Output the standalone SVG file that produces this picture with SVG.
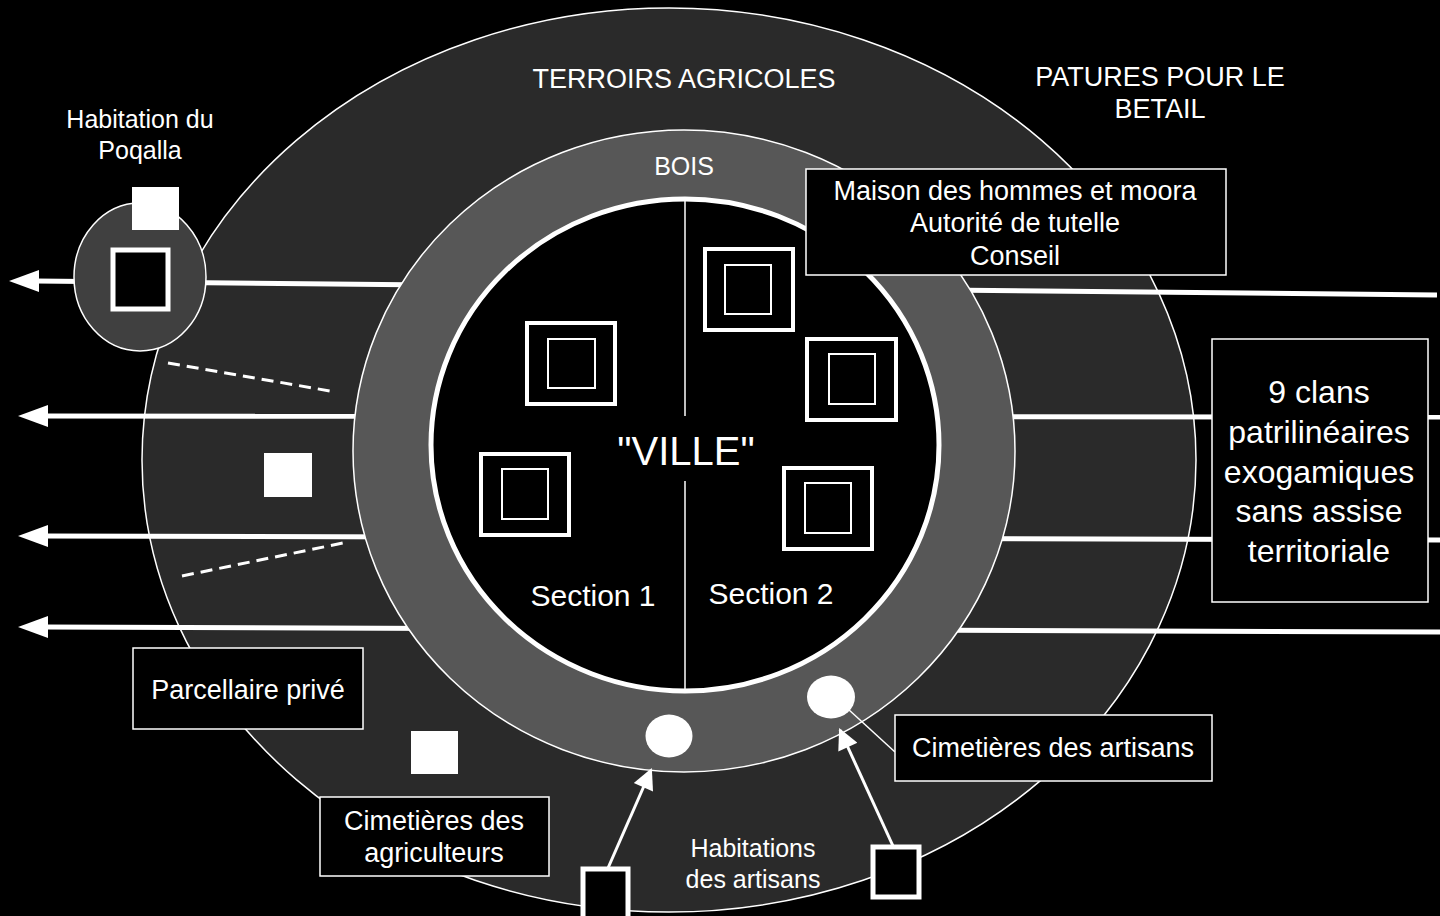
<svg xmlns="http://www.w3.org/2000/svg" width="1440" height="916" viewBox="0 0 1440 916">
<defs>
<style>
text{font-family:"Liberation Sans",Arial,sans-serif;fill:#fff;text-anchor:middle}
.t26{font-size:27px}
.t24{font-size:25px}
.box{fill:#000;stroke:#fff;stroke-width:1.5}
.hl{stroke:#fff;stroke-width:5;fill:none}
.dash{stroke:#fff;stroke-width:3;stroke-dasharray:12 7;fill:none}
.fsq{fill:#fff}
.osq{fill:none;stroke:#fff;stroke-width:4}
.isq{fill:none;stroke:#fff;stroke-width:2}
.bsq{fill:#000;stroke:#fff;stroke-width:5}
.big{font-size:32px}
</style>
<marker id="ah2" viewBox="0 0 10 10" refX="9" refY="5" markerWidth="8" markerHeight="7" markerUnits="strokeWidth" orient="auto">
<path d="M0,0 L10,5 L0,10 z" fill="#fff"/>
</marker>
</defs>
<rect width="1440" height="916" fill="#000"/>

<g id="terroirs">
<ellipse cx="669" cy="460" rx="527" ry="452" fill="#2a2a2a" stroke="#fff" stroke-width="1.5"/>
</g>

<g id="connectors">
<line class="hl" x1="36" y1="281" x2="1437" y2="295"/>
<path d="M39,270 L9,281 L39,292 z" fill="#fff"/>
<line class="hl" x1="44" y1="416" x2="1440" y2="417"/>
<path d="M48,405 L18,416 L48,427 z" fill="#fff"/>
<line class="hl" x1="44" y1="536" x2="1440" y2="540"/>
<path d="M48,525 L18,536 L48,547 z" fill="#fff"/>
<line class="hl" x1="44" y1="627" x2="1440" y2="632"/>
<path d="M48,616 L18,627 L48,638 z" fill="#fff"/>
<line class="dash" x1="168" y1="363" x2="336" y2="392"/>
<line class="dash" x1="182" y1="576" x2="348" y2="542"/>
</g>

<g id="poqalla">
<ellipse cx="140" cy="277" rx="66" ry="74" fill="#404040" stroke="#fff" stroke-width="1.5"/>
<rect class="fsq" x="132" y="187" width="47" height="43"/>
<rect class="bsq" x="113" y="250" width="55" height="59"/>
<text class="t24" x="140" y="128">Habitation du</text>
<text class="t24" x="140" y="159">Poqalla</text>
</g>

<g id="bois">
<ellipse cx="684" cy="451" rx="331" ry="321" fill="#575757" stroke="#fff" stroke-width="1.5"/>
<text class="t24" x="684" y="175">BOIS</text>
</g>

<g id="ville">
<ellipse cx="685" cy="445" rx="254" ry="246" fill="#000" stroke="#fff" stroke-width="5"/>
<line x1="685" y1="200" x2="685" y2="416" stroke="#fff" stroke-width="1.5"/>
<line x1="685" y1="481" x2="685" y2="690" stroke="#fff" stroke-width="1.5"/>
<text x="686" y="465" style="font-size:40px">"VILLE"</text>
<text x="593" y="606" style="font-size:30px">Section 1</text>
<text x="771" y="604" style="font-size:30px">Section 2</text>
</g>

<g id="maisons">
<rect class="osq" x="527" y="323" width="88" height="81"/><rect class="isq" x="548" y="339" width="47" height="49"/>
<rect class="osq" x="481" y="454" width="88" height="81"/><rect class="isq" x="502" y="469" width="46" height="50"/>
<rect class="osq" x="705" y="249" width="88" height="81"/><rect class="isq" x="725" y="265" width="46" height="49"/>
<rect class="osq" x="807" y="339" width="89" height="81"/><rect class="isq" x="829" y="354" width="46" height="50"/>
<rect class="osq" x="784" y="468" width="88" height="81"/><rect class="isq" x="805" y="483" width="46" height="50"/>
</g>

<g id="labels-top">
<text class="t26" x="684" y="88">TERROIRS AGRICOLES</text>
<text class="t26" x="1160" y="86">PATURES POUR LE</text>
<text class="t26" x="1160" y="118">BETAIL</text>
</g>

<g id="maison-hommes">
<rect class="box" x="806" y="169" width="420" height="106"/>
<text class="t26" x="1015" y="200">Maison des hommes et moora</text>
<text class="t26" x="1015" y="232">Autorité de tutelle</text>
<text class="t26" x="1015" y="265">Conseil</text>
</g>

<g id="clans">
<rect class="box" x="1212" y="339" width="216" height="263"/>
<text class="big" x="1319" y="403">9 clans</text>
<text class="big" x="1319" y="443">patrilinéaires</text>
<text class="big" x="1319" y="483">exogamiques</text>
<text class="big" x="1319" y="522">sans assise</text>
<text class="big" x="1319" y="562">territoriale</text>
</g>

<g id="parcellaire">
<rect class="fsq" x="264" y="453" width="48" height="44"/>
<rect class="fsq" x="411" y="731" width="47" height="43"/>
<rect class="box" x="133" y="648" width="230" height="81"/>
<text class="t26" x="248" y="699">Parcellaire privé</text>
</g>

<g id="cim-agri">
<rect class="box" x="320" y="797" width="229" height="79"/>
<text class="t26" x="434" y="830">Cimetières des</text>
<text class="t26" x="434" y="862">agriculteurs</text>
</g>

<g id="cim-artisans">
<ellipse cx="669" cy="736" rx="23.5" ry="21.5" fill="#fff"/>
<ellipse cx="831" cy="697" rx="24" ry="21.5" fill="#fff"/>
<line x1="848" y1="709" x2="895" y2="752" stroke="#fff" stroke-width="1.5"/>
<rect class="box" x="895" y="715" width="317" height="66"/>
<text class="t26" x="1053" y="757">Cimetières des artisans</text>
</g>

<g id="hab-artisans">
<line x1="608" y1="868" x2="651" y2="770" stroke="#fff" stroke-width="3" marker-end="url(#ah2)"/>
<line x1="893" y1="846" x2="840" y2="730" stroke="#fff" stroke-width="3" marker-end="url(#ah2)"/>
<rect class="bsq" x="583" y="869" width="45" height="60"/>
<rect class="bsq" x="873" y="847" width="46" height="50"/>
<text class="t24" x="753" y="857">Habitations</text>
<text class="t24" x="753" y="888">des artisans</text>
</g>
</svg>
